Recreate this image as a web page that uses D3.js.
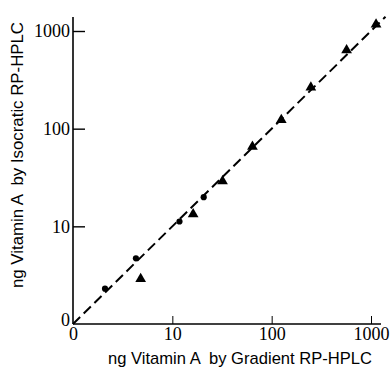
<!DOCTYPE html>
<html>
<head>
<meta charset="utf-8">
<script src="https://cdn.jsdelivr.net/npm/d3@7"></script>
<style>
  body { margin: 0; background: #fff; }
  svg { display: block; }
</style>
</head>
<body>
<svg id="chart" width="390" height="371"></svg>
<script>
// ng vitamin A, gradient (x) vs isocratic (y)
const circleGradient = [2.1, 4.3, 11.8, 20.7];
const circleIsocratic = [2.3, 4.7, 11.2, 19.9];
const triGradient = [4.8, 16.2, 32, 64, 125, 248, 568, 1124];
const triIsocratic = [2.9, 13.3, 29, 65.5, 123, 264, 635, 1170];
const tickValues = [1, 10, 100, 1000];
const tickLabels = ["0", "10", "100", "1000"];
const lineEnds = [1, 1400];

const svg = d3.select("#chart");

const x = d3.scaleLog().domain([1, 1000]).range([73, 371]);
const y = d3.scaleLog().domain([1, 1000]).range([324, 31]);

const xMax = x.invert(381);
const yMax = y.invert(17);

const fmt = (d) => tickLabels[tickValues.indexOf(d)];

const styleTicks = (g) => g.selectAll(".tick text")
  .attr("font-family", "'Liberation Serif', 'DejaVu Serif', serif")
  .attr("font-size", 18)
  .attr("fill", "#000");

// x axis
const gx = svg.append("g")
  .attr("transform", `translate(0, ${y(1)})`)
  .call(d3.axisBottom(x).tickValues(tickValues).tickFormat(fmt)
    .tickSizeInner(-8).tickSizeOuter(0).tickPadding(3));
gx.select(".domain").remove();
gx.append("line")
  .attr("x1", x(1)).attr("x2", x(xMax))
  .attr("stroke", "#000").attr("stroke-width", 1.6);
gx.selectAll(".tick line").attr("stroke-width", 1);
gx.selectAll(".tick").filter((d) => d === 1).select("line").remove();
styleTicks(gx);

// y axis
const gy = svg.append("g")
  .attr("transform", `translate(${x(1)}, 0)`)
  .call(d3.axisLeft(y).tickValues(tickValues).tickFormat(fmt)
    .tickSizeInner(-12).tickSizeOuter(0).tickPadding(3));
gy.select(".domain").remove();
gy.append("line")
  .attr("y1", y(1)).attr("y2", y(yMax))
  .attr("stroke", "#000").attr("stroke-width", 1.6);
gy.selectAll(".tick line").attr("stroke-width", 1.4);
gy.selectAll(".tick").filter((d) => d === 1).select("line").remove();
gy.selectAll(".tick").filter((d) => d === 1).select("text").attr("dy", "0.1em");
styleTicks(gy);

// identity line
svg.append("line")
  .attr("x1", x(lineEnds[0])).attr("y1", y(lineEnds[0]))
  .attr("x2", x(lineEnds[1])).attr("y2", y(lineEnds[1]))
  .attr("stroke", "#000")
  .attr("stroke-width", 2)
  .attr("stroke-dasharray", "10,5");

// points
svg.append("g").selectAll("path")
  .data(circleGradient.map((g, i) => [g, circleIsocratic[i]]))
  .join("path")
  .attr("transform", (d) => `translate(${x(d[0])}, ${y(d[1])})`)
  .attr("d", d3.symbol(d3.symbolCircle, 30));

svg.append("g").selectAll("path")
  .data(triGradient.map((g, i) => [g, triIsocratic[i]]))
  .join("path")
  .attr("transform", (d) => `translate(${x(d[0])}, ${y(d[1])})`)
  .attr("d", d3.symbol(d3.symbolTriangle, 50));

// titles
const titleFont = "'Liberation Sans Narrow', 'Liberation Sans', sans-serif";

svg.append("text")
  .attr("x", 108)
  .attr("y", 364)
  .attr("font-family", titleFont)
  .attr("font-size", 17)
  .style("white-space", "pre")
  .attr("textLength", 264)
  .attr("lengthAdjust", "spacingAndGlyphs")
  .text("ng Vitamin A  by Gradient RP-HPLC");

svg.append("text")
  .attr("transform", "rotate(-90)")
  .attr("x", -288)
  .attr("y", 23)
  .attr("font-family", titleFont)
  .attr("font-size", 17)
  .style("white-space", "pre")
  .attr("textLength", 266)
  .attr("lengthAdjust", "spacingAndGlyphs")
  .text("ng Vitamin A  by Isocratic RP-HPLC");
</script>
</body>
</html>
